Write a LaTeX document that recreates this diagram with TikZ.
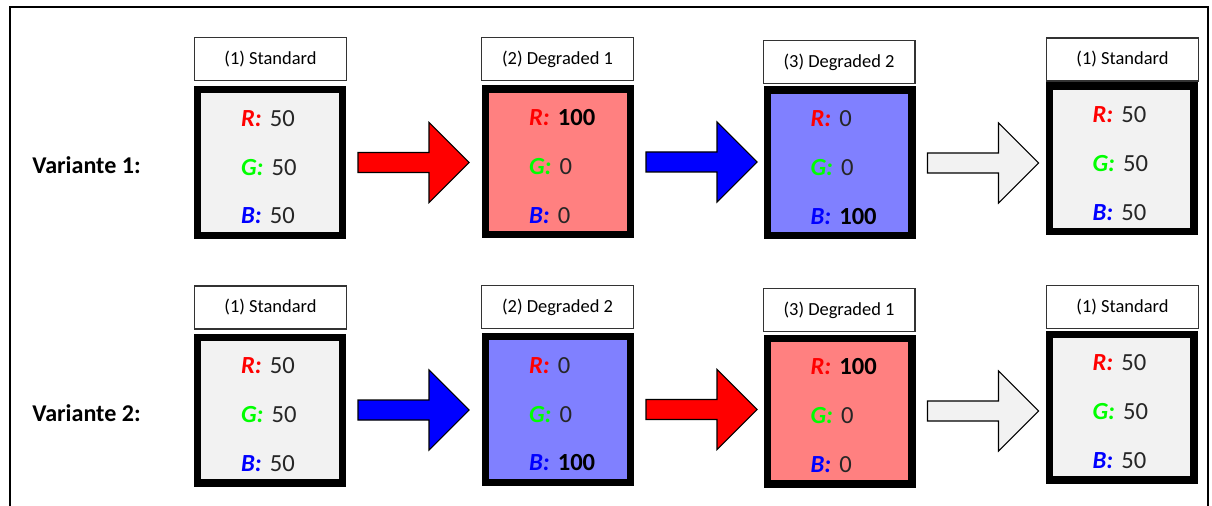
\documentclass[tikz,border=0pt]{standalone}
\usepackage{fontspec}
\setmainfont{Carlito}
\usetikzlibrary{calc}
\definecolor{degred}{HTML}{FF8080}
\definecolor{degblue}{HTML}{8080FF}
\definecolor{stdgrey}{HTML}{F2F2F2}
\definecolor{chgreen}{HTML}{00FF00}
\newcommand{\chR}{\textcolor{red}{\textbf{\textit{R:}}}}
\newcommand{\chG}{\textcolor{chgreen}{\textbf{\textit{G:}}}}
\newcommand{\chB}{\textcolor{blue}{\textbf{\textit{B:}}}}
\newcommand{\chans}[3]{\rule{0pt}{14.5pt}\mbox{\chR~#1}\\\mbox{\chG~#2}\\\mbox{\chB~#3}}
\newcommand{\hi}{\textcolor{black}{\textbf{100}}}
\tikzset{title/.style={draw=black!80, line width=0.6pt, fill=white, minimum width=3.04cm, minimum height=0.86cm, inner sep=0pt, font=\fontsize{10.5}{12}\selectfont}}
\tikzset{state/.style={draw=black, line width=4pt, fill=#1, minimum width=2.9cm, minimum height=2.92cm, inner xsep=0.87cm, text width=1.16cm, align=left, text=black!85, font=\fontsize{14}{27.8}\selectfont}}
\tikzset{state/.default=stdgrey}
\tikzset{variant/.style={anchor=west, inner sep=0pt, font=\fontsize{13.7}{16}\selectfont\bfseries}}
\tikzset{flow/.style={draw=black, line width=0.6pt, line join=miter, fill=#1}}

\begin{document}
\begin{tikzpicture}[x=0.02cm, y=-0.02cm]
\useasboundingbox (0,0) rectangle (1212,506);
\draw[line width=1.2pt] (10,520) -- (10,7) -- (1208,7) -- (1208,520);

\node (v1) at (32,165)[variant]{Variante 1:};
\node (v2) at (32,413)[variant]{Variante 2:};

% Variante 1
\node (l11) at (270.5,59)[title]{(1) Standard};
\node (m11) at (270,162.5)[state]{\chans{50}{50}{50}};
\node (l12) at (557.5,59)[title]{(2) Degraded 1};
\node (m12) at (558,162)[state=degred]{\chans{\hi}{0}{0}};
\node (l13) at (839,62)[title]{(3) Degraded 2};
\node (m13) at (839.5,163)[state=degblue]{\chans{0}{0}{\hi}};
\node (l14) at (1122.5,59.5)[title]{(1) Standard};
\node (m14) at (1121.5,159)[state]{\chans{50}{50}{50}};

% Variante 2
\node (l21) at (270.5,307.5)[title]{(1) Standard};
\node (m21) at (270,410)[state]{\chans{50}{50}{50}};
\node (l22) at (557.5,307)[title]{(2) Degraded 2};
\node (m22) at (558,409.5)[state=degblue]{\chans{0}{0}{\hi}};
\node (l23) at (839,310)[title]{(3) Degraded 1};
\node (m23) at (839.5,411)[state=degred]{\chans{\hi}{0}{0}};
\node (l24) at (1122.5,307)[title]{(1) Standard};
\node (m24) at (1121.5,407)[state]{\chans{50}{50}{50}};

%block arrows between the states
\foreach \from/\col in {m11/red, m12/blue, m13/stdgrey, m21/blue, m22/red, m23/stdgrey}
  \draw[flow=\col] ($(\from.east)+(12,0)$) ++(0,-10) -- ++(71,0) -- ++(0,-30) -- ++(40,40)
    -- ++(-40,40) -- ++(0,-30) -- ++(-71,0) -- cycle;

\end{tikzpicture}
\end{document}
